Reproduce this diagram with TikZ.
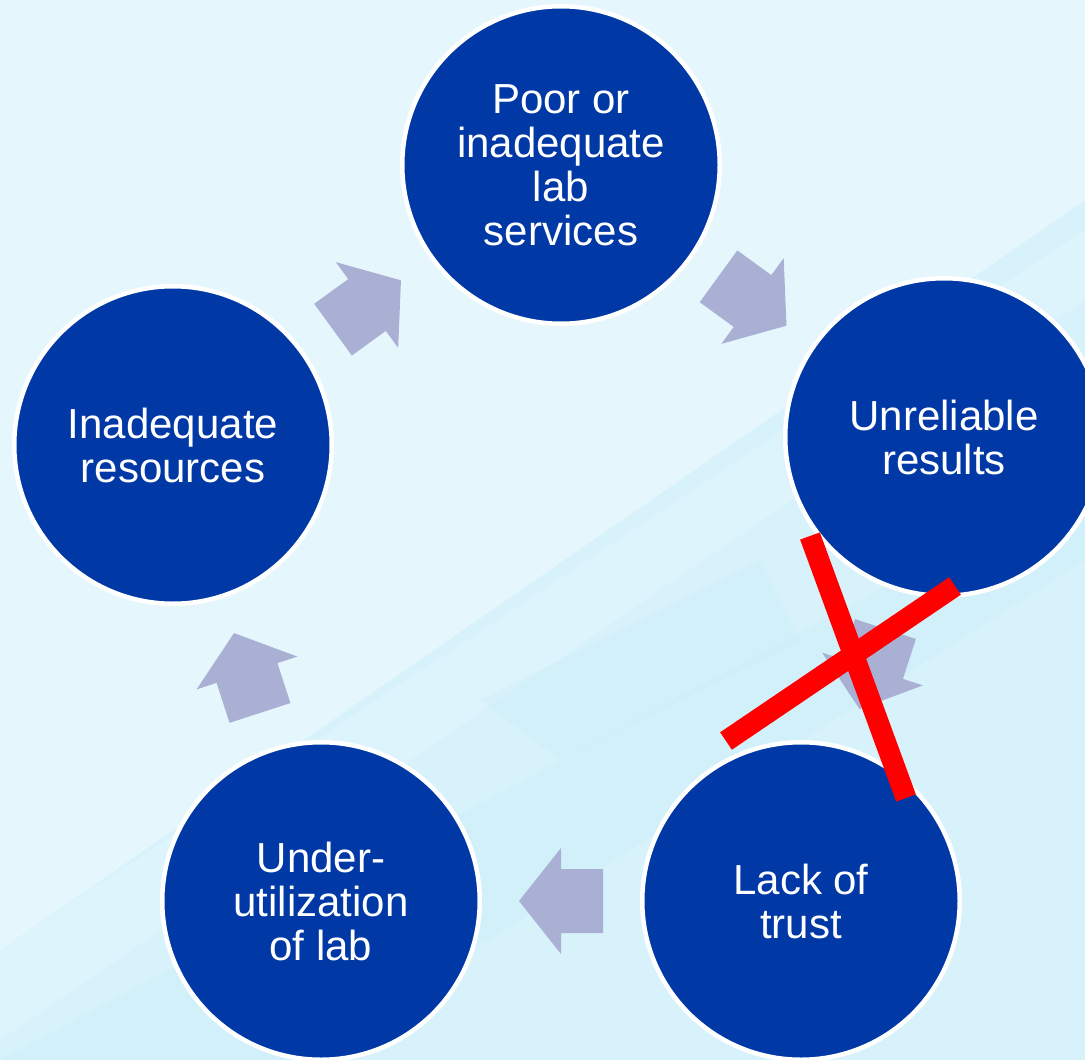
\documentclass[tikz,border=0pt]{standalone}
\usepackage{fontspec}
\setmainfont{Liberation Sans}
\usetikzlibrary{calc}
\definecolor{bgbase}{HTML}{D8F2FB}
\definecolor{bglight}{HTML}{E5F7FD}
\definecolor{bgcyan}{HTML}{C9EEFA}
\definecolor{circblue}{HTML}{0039A6}
\definecolor{arrowgray}{HTML}{AAB0D3}
\tikzset{
  stage/.style={circle, fill=circblue, draw=white, line width=4.5pt,
    minimum size=317.5pt, inner sep=0pt, text=white, align=center,
    font=\fontsize{42}{44}\selectfont},
  blockarrow/.style={fill=arrowgray},
  crossbar/.style={draw=red, line width=21pt, line cap=butt}
}
\newcommand{\blockarr}[3]{%
  \fill[blockarrow, shift={($(#1)!0.5!(#2)$)}, rotate=#3]
    (42,0) -- (0,53) -- (0,32) -- (-42,32) -- (-42,-32) -- (0,-32) -- (0,-53) -- cycle;}
\begin{document}
\begin{tikzpicture}[x=1pt,y=-1pt]
  \useasboundingbox (0,0) rectangle (1085,1060);
  \clip (0,0) rectangle (1085,1060);
  % background
  \fill[bgbase] (0,0) rectangle (1085,1060);
  \fill[bglight] (0,0) -- (1085,0) -- (1085,200) -- (0,950) -- cycle;
  \fill[bglight, opacity=0.5] (0,950) -- (1085,230) -- (1085,300) -- (0,1040) -- cycle;
  \fill[bgcyan, opacity=0.45] (0,1060) -- (1085,480) -- (1085,560) -- (300,1060) -- cycle;
  \fill[bgcyan, opacity=0.35] (480,700) -- (760,560) -- (800,640) -- (560,760) -- cycle;
  % stages
  \node[stage] (top) at (561,165) {Poor or\\inadequate\\lab\\services};
  \node[stage] (right) at (944,437) {Unreliable\\results};
  \node[stage] (lr) at (801,901) {Lack of\\trust};
  \node[stage] (ll) at (321,901) {Under-\\utilization\\of lab};
  \node[stage] (left) at (173,445) {Inadequate\\resources};
  % arrows
  \blockarr{left}{top}{36}
  \blockarr{top}{right}{-36}
  \blockarr{right}{lr}{-108}
  \blockarr{lr}{ll}{180}
  \blockarr{ll}{left}{108}
  % red cross
  \coordinate (c1a) at (810,536);
  \coordinate (c1b) at (906,798);
  \coordinate (c2a) at (726,741);
  \coordinate (c2b) at (955,586);
  \draw[crossbar] (c1a) -- (c1b);
  \draw[crossbar] (c2a) -- (c2b);
\end{tikzpicture}
\end{document}
